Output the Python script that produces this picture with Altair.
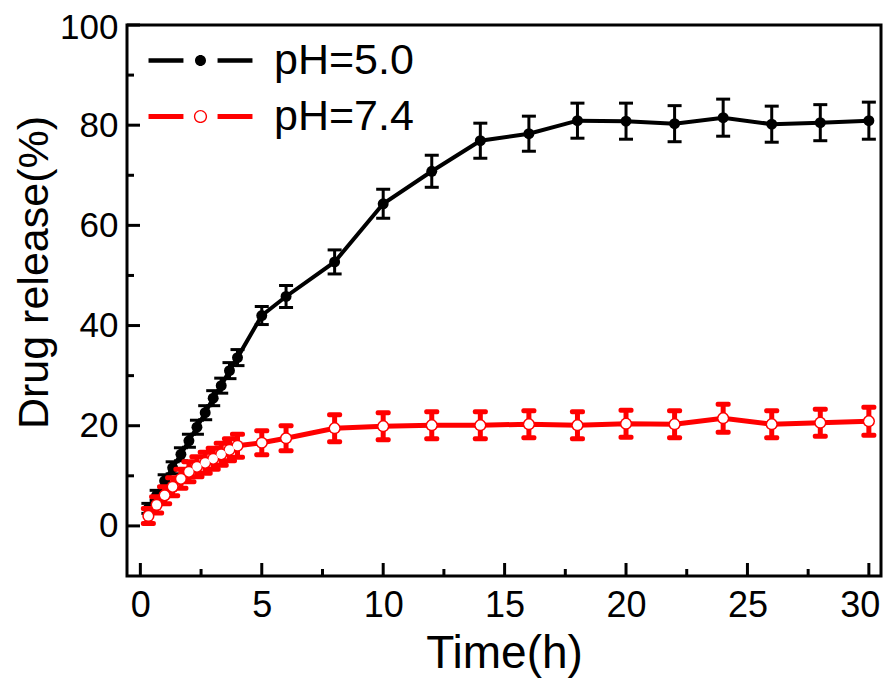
import altair as alt
import pandas as pd

# ---- data ----
time_h = [0.33, 0.67, 1, 1.33, 1.67, 2, 2.33, 2.67, 3, 3.33, 3.67, 4,
          5, 6, 8, 10, 12, 14, 16, 18, 20, 22, 24, 26, 28, 30]
ph50 = [3.5, 6.1, 9.0, 11.6, 14.3, 17.0, 19.7, 22.6, 25.5, 28.0, 31.0, 33.6,
        42.0, 45.8, 52.7, 64.3, 70.8, 76.9, 78.3, 80.9, 80.8, 80.3, 81.5, 80.2, 80.5, 80.9]
ph50_err = [1.0, 1.0, 1.2, 1.2, 1.3, 1.3, 1.4, 1.4, 1.5, 1.5, 1.6, 1.6,
            1.8, 2.2, 2.4, 2.9, 3.2, 3.5, 3.5, 3.5, 3.6, 3.6, 3.7, 3.6, 3.6, 3.7]
ph74 = [2.0, 4.2, 6.1, 7.8, 9.4, 10.8, 11.8, 12.6, 13.4, 14.3, 15.2, 16.0,
        16.6, 17.5, 19.5, 19.9, 20.1, 20.1, 20.3, 20.1, 20.4, 20.3, 21.5, 20.3, 20.6, 20.9]
ph74_err = [1.5, 1.6, 1.7, 1.8, 1.9, 2.0, 2.0, 2.1, 2.1, 2.2, 2.2, 2.3,
            2.4, 2.5, 2.7, 2.7, 2.7, 2.7, 2.7, 2.7, 2.7, 2.7, 2.8, 2.7, 2.7, 2.8]
series_names = ["pH=5.0", "pH=7.4"]

x_major = [0, 5, 10, 15, 20, 25, 30]
x_minor = [2.5, 7.5, 12.5, 17.5, 22.5, 27.5]
y_major = [0, 20, 40, 60, 80, 100]
y_minor = [10, 30, 50, 70, 90]

W, H = 754, 551
FONT = "Liberation Sans"

def frame(vals, err, name):
    return pd.DataFrame({
        "t": time_h, "v": vals,
        "lo": [a - b for a, b in zip(vals, err)],
        "hi": [a + b for a, b in zip(vals, err)],
        "s": name,
    })

df_b = frame(ph50, ph50_err, series_names[0])
df_r = frame(ph74, ph74_err, series_names[1])

xs = alt.Scale(domain=[-0.55, 30.5], nice=False, zero=False)
ys = alt.Scale(domain=[-10, 100], nice=False, zero=False)

X = alt.X("t:Q", scale=xs, axis=alt.Axis(
    values=x_major, title="Time(h)", labelFontSize=36, titleFontSize=46,
    titleFontWeight="normal", labelFont=FONT, titleFont=FONT,
    ticks=False, tickSize=0, domain=False, grid=False, labelPadding=12,
    titlePadding=8, labelColor="black", titleColor="black", labelFlush=False,
    labelOffset={"condition": {"test": "datum.value == 30", "value": -9}, "value": 0}))
Y = alt.Y("v:Q", scale=ys, axis=alt.Axis(
    values=y_major, title="Drug release(%)", labelFontSize=35, titleFontSize=43,
    titleFontWeight="normal", labelFont=FONT, titleFont=FONT,
    ticks=False, tickSize=0, domain=False, grid=False, labelPadding=9,
    titlePadding=3, titleY=247, labelColor="black", titleColor="black",
    labelFlush=False,
    labelOffset={"condition": {"test": "datum.value == 100", "value": 2}, "value": 0}))

Xn = alt.X("t:Q", scale=xs)
Yn = alt.Y("v:Q", scale=ys)

path_black = ("M -9.45 -0.4 L -3.1 -0.4 L -3.1 0.4 L -9.45 0.4 Z "
              "M 3.1 -0.4 L 9.45 -0.4 L 9.45 0.4 L 3.1 0.4 Z "
              "M 1 0 A 1 1 0 1 1 -1 0 A 1 1 0 1 1 1 0 Z")
path_red = ("M -9.45 -0.45 L -3.1 -0.45 L -3.1 0.45 L -9.45 0.45 Z "
            "M 3.1 -0.45 L 9.45 -0.45 L 9.45 0.45 L 3.1 0.45 Z "
            "M 1.2 0 A 1.2 1.2 0 1 1 -1.2 0 A 1.2 1.2 0 1 1 1.2 0 Z "
            "M 0.95 0 A 0.95 0.95 0 1 0 -0.95 0 A 0.95 0.95 0 1 0 0.95 0 Z")

def legend(path, ly):
    return alt.Legend(title=None, orient="none", legendX=52, legendY=ly,
                      symbolType=path, symbolSize=121, symbolStrokeWidth=0,
                      symbolOpacity=1, labelFontSize=43, labelFont=FONT,
                      labelColor="black", labelOffset=52, padding=0)

def series(df, color, lw, capw, path, ly, hollow):
    base = alt.Chart(df)
    line = base.mark_line(color=color, strokeWidth=lw).encode(x=X, y=Y)
    err = base.mark_rule(color=color, strokeWidth=capw).encode(
        x=Xn, y=alt.Y("lo:Q", scale=ys), y2="hi:Q")
    capsize = 15 if hollow else 14
    cap_lo = base.mark_tick(color=color, orient="horizontal", size=capsize,
                            thickness=capw, opacity=1, cornerRadius=2 if hollow else 0).encode(
        x=Xn, y=alt.Y("lo:Q", scale=ys))
    cap_hi = base.mark_tick(color=color, orient="horizontal", size=capsize,
                            thickness=capw, opacity=1, cornerRadius=2 if hollow else 0).encode(
        x=Xn, y=alt.Y("hi:Q", scale=ys))
    pts = base.mark_point(filled=True, shape="circle",
                          size=150 if hollow else 120, opacity=1).encode(
        x=Xn, y=Yn,
        color=alt.Color("s:N", scale=alt.Scale(domain=[df["s"][0]], range=[color]),
                        legend=legend(path, ly)))
    layers = [line, err, cap_lo, cap_hi, pts]
    if hollow:
        layers.append(base.mark_point(filled=True, shape="circle", size=85,
                                      color="white", opacity=1).encode(x=Xn, y=Yn))
    return alt.layer(*layers)

ticks_xM = alt.Chart(pd.DataFrame({"t": x_major})).mark_rule(
    color="black", strokeWidth=3).encode(x=Xn, y=alt.value(H), y2=alt.value(H - 13))
ticks_xm = alt.Chart(pd.DataFrame({"t": x_minor})).mark_rule(
    color="black", strokeWidth=3).encode(x=Xn, y=alt.value(H), y2=alt.value(H - 7))
ticks_yM = alt.Chart(pd.DataFrame({"v": y_major})).mark_rule(
    color="black", strokeWidth=3).encode(y=Yn, x=alt.value(0), x2=alt.value(13))
ticks_ym = alt.Chart(pd.DataFrame({"v": y_minor})).mark_rule(
    color="black", strokeWidth=3).encode(y=Yn, x=alt.value(0), x2=alt.value(7))

black = series(df_b, "black", 4, 3, path_black, 14, False)
red = series(df_r, "#ff0000", 5, 5, path_red, 70, True)

chart = alt.layer(ticks_xM, ticks_xm, ticks_yM, ticks_ym, black, red).resolve_scale(
    color="independent"
).properties(
    width=W, height=H, autosize="none",
    padding={"left": 119, "top": 17, "right": 5, "bottom": 104},
    background="white",
).configure_view(stroke="black", strokeWidth=3)

chart.save("out.html", embed_options={"renderer": "svg", "actions": False})
